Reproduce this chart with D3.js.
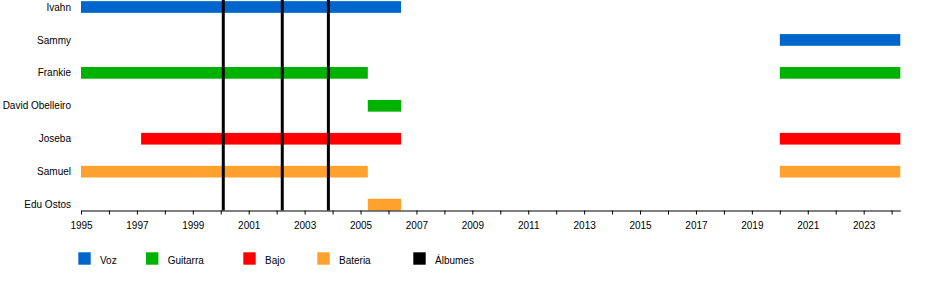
<!DOCTYPE html>
<html>
<head>
<meta charset="utf-8">
<script src="https://cdn.jsdelivr.net/npm/d3@7"></script>
<style>
  html, body { margin: 0; padding: 0; background: #fff; }
  svg { display: block; }
  text { font-family: "Liberation Sans", Arial, sans-serif; font-size: 10px; fill: #000; }
</style>
</head>
<body>
<script>
// ---- data ----
const members = ["Ivahn", "Sammy", "Frankie", "David Obelleiro", "Joseba", "Samuel", "Edu Ostos"];
const barMember = ["Ivahn", "Sammy", "Frankie", "Frankie", "David Obelleiro", "Joseba", "Joseba", "Samuel", "Samuel", "Edu Ostos"];
const barStart  = [1995, 2020, 1995, 2020, 2005.26, 1997.15, 2020, 1995, 2020, 2005.26];
const barEnd    = [2006.45, 2024.31, 2005.26, 2024.31, 2006.45, 2006.45, 2024.31, 2005.26, 2024.31, 2006.45];
const barRole   = ["Voz", "Voz", "Guitarra", "Guitarra", "Guitarra", "Bajo", "Bajo", "Batería", "Batería", "Batería"];
const albums = [2000.09, 2002.2, 2003.85];
const roles = ["Voz", "Guitarra", "Bajo", "Batería", "Álbumes"];
const roleColors = ["#0066cc", "#00b200", "#ff0000", "#ffa12e", "#000000"];
const legendLabels = ["Voz", "Guitarra", "Bajo", "Bateria", "Álbumes"];
const tickYears = d3.range(1995, 2025);
const labelYears = d3.range(1995, 2025, 2);
const startYear = 1995, endYear = 2024.31;

// ---- chart ----
const W = 950, H = 290;
const svg = d3.select("body").append("svg").attr("width", W).attr("height", H);

const x = d3.scaleLinear().domain([startYear, endYear]).range([81, 900.3]);
const y = d3.scalePoint().domain(members).range([7, 204.6]);
const color = d3.scaleOrdinal().domain(roles).range(roleColors);
const barH = 11.7;
const axisY = 210.5;

// bars
svg.append("g").selectAll("rect")
  .data(barMember.map((m, i) => ({ m, s: barStart[i], e: barEnd[i], r: barRole[i] })))
  .join("rect")
  .attr("x", d => x(d.s))
  .attr("width", d => x(d.e) - x(d.s))
  .attr("y", d => y(d.m) - barH / 2)
  .attr("height", barH)
  .attr("fill", d => color(d.r));

// album lines
svg.append("g").selectAll("line")
  .data(albums)
  .join("line")
  .attr("x1", d => x(d)).attr("x2", d => x(d))
  .attr("y1", 0).attr("y2", axisY)
  .attr("stroke", "#000").attr("stroke-width", 3);

// member labels
svg.append("g").selectAll("text")
  .data(members)
  .join("text")
  .attr("x", 71)
  .attr("y", d => y(d) + 3.6)
  .attr("text-anchor", "end")
  .text(d => d);

// axis
const axis = d3.axisBottom(x)
  .tickValues(tickYears)
  .tickSize(4)
  .tickSizeOuter(0)
  .tickFormat(d => labelYears.includes(d) ? String(d) : "");
const ag = svg.append("g").attr("transform", `translate(0,${axisY})`).call(axis);
ag.select(".domain").attr("stroke", "#000").attr("stroke-width", 1);
ag.selectAll(".tick line").attr("stroke", "#000");
ag.selectAll(".tick text")
  .attr("dy", null).attr("y", 18.2)
  .style("font-family", "'Liberation Sans', Arial, sans-serif")
  .style("font-size", "10px")
  .attr("fill", "#000");

// legend
const legendX = [78.3, 146, 243.3, 317.3, 413.3];
const lg = svg.append("g").selectAll("g")
  .data(roles)
  .join("g")
  .attr("transform", (d, i) => `translate(${legendX[i]},252.3)`);
lg.append("rect").attr("width", 12.4).attr("height", 12.4).attr("fill", d => color(d));
lg.append("text").attr("x", 21.7).attr("y", 11.8).text((d, i) => legendLabels[i]);
</script>
</body>
</html>
